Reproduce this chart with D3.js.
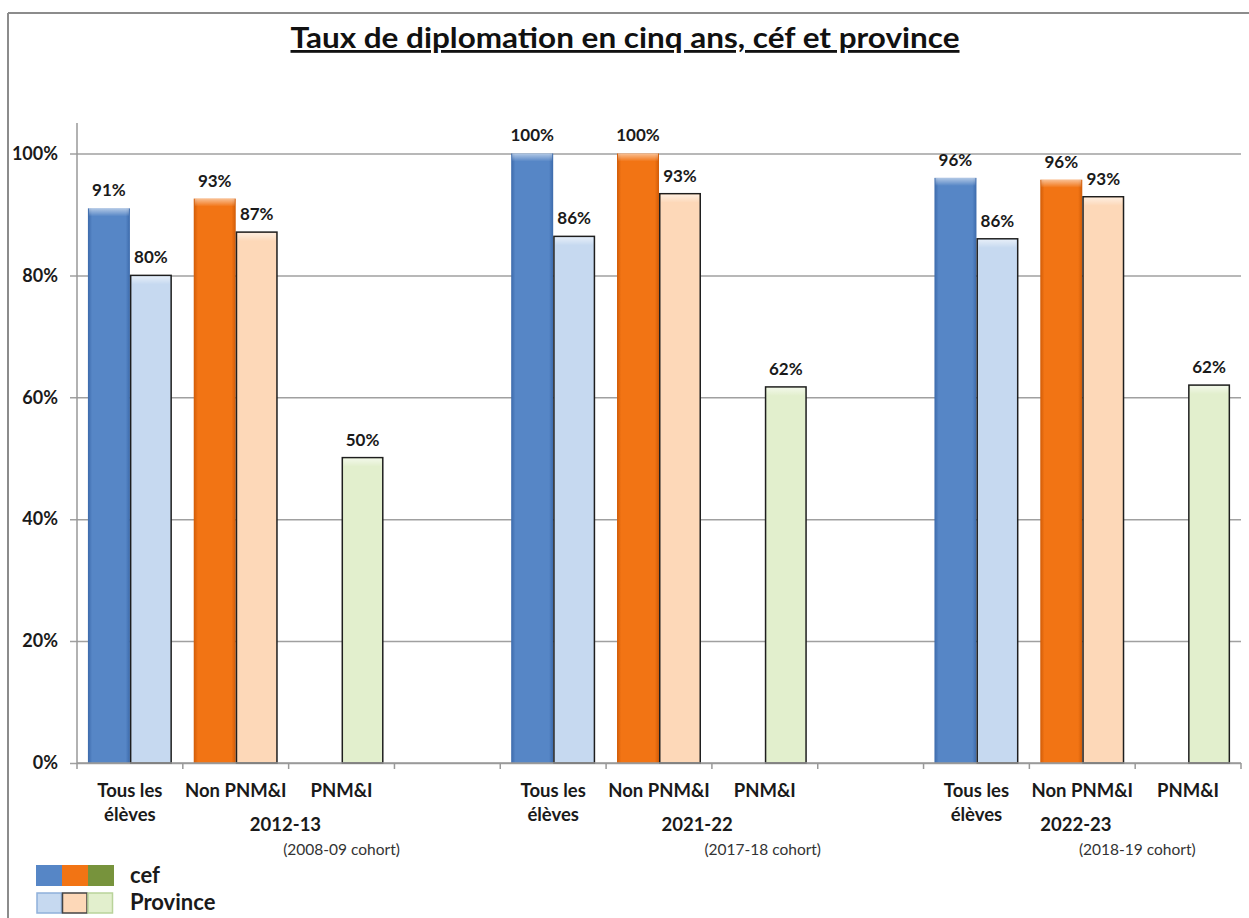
<!DOCTYPE html>
<html>
<head>
<meta charset="utf-8">
<script src="https://cdn.jsdelivr.net/npm/d3@7"></script>
<style>
  body { margin: 0; background: #fff; }
  svg { display: block; font-family: Lato, 'Open Sans', sans-serif; }
</style>
</head>
<body>
<svg id="chart" width="1249" height="918"></svg>
<script>
const groups = ['2012-13', '2021-22', '2022-23']
const cohorts = ['(2008-09 cohort)', '(2017-18 cohort)', '(2018-19 cohort)']
const categories = [['Tous les', 'élèves'], ['Non PNM&I'], ['PNM&I']]
const cefValues = [
  [0.91, 0.926, null],
  [1.00, 1.00, null],
  [0.96, 0.957, null],
]
const provinceValues = [
  [0.80, 0.871, 0.501],
  [0.864, 0.934, 0.617],
  [0.86, 0.929, 0.62],
]
const yTicks = [0, 0.2, 0.4, 0.6, 0.8, 1]
const legendLabels = ['cef', 'Province']

// colours per category: blue, orange, green
const cefPalette = [
  { edge: '#3c6aab', body: '#5686c6' },
  { edge: '#d15c08', body: '#f27414' },
  { edge: '#5f7a2c', body: '#77933c' },
]
const provPalette = ['#c6d9f0', '#fdd8b8', '#e2efcd']
const provLegendStroke = ['#8fb0da', '#444', '#b9d39a']

const svg = d3.select('#chart')
const defs = svg.append('defs')

cefPalette.forEach((c, i) => {
  const g = defs.append('linearGradient').attr('id', `cef-${i}`)
  g.append('stop').attr('offset', '0%').attr('stop-color', c.edge)
  g.append('stop').attr('offset', '10%').attr('stop-color', c.body)
  g.append('stop').attr('offset', '90%').attr('stop-color', c.body)
  g.append('stop').attr('offset', '100%').attr('stop-color', c.edge)
})
const hl = defs.append('linearGradient').attr('id', 'hl').attr('x1', 0).attr('x2', 0).attr('y1', 0).attr('y2', 1)
hl.append('stop').attr('offset', '0%').attr('stop-color', '#fff').attr('stop-opacity', 0.55)
hl.append('stop').attr('offset', '100%').attr('stop-color', '#fff').attr('stop-opacity', 0)

// frame
svg.append('line').attr('x1', 8).attr('x2', 1249).attr('y1', 13).attr('y2', 13)
  .attr('stroke', '#8c8c8c').attr('stroke-width', 2)
svg.append('line').attr('x1', 8).attr('x2', 8).attr('y1', 13).attr('y2', 918)
  .attr('stroke', '#8c8c8c').attr('stroke-width', 2)

// title
svg.append('text')
  .attr('x', 625).attr('y', 48)
  .attr('text-anchor', 'middle')
  .attr('font-size', 28).attr('font-weight', 700)
  .attr('textLength', 669).attr('lengthAdjust', 'spacingAndGlyphs')
  .attr('text-decoration', 'underline')
  .attr('fill', '#111')
  .text('Taux de diplomation en cinq ans, céf et province')

// slots: 3 categories per group, blank slot between groups
const slots = []
groups.forEach((g, gi) => {
  categories.forEach((c, ci) => {
    slots.push({ key: `${gi}-${ci}`, gi, ci, cef: cefValues[gi][ci], prov: provinceValues[gi][ci] })
  })
  if (gi < groups.length - 1) slots.push({ key: `gap-${gi}`, gap: true })
})

const x = d3.scaleBand().domain(slots.map((d) => d.key)).range([77, 1241])
const inner = d3.scaleBand().domain(['cef', 'prov']).range([0, x.bandwidth()]).paddingOuter(0.26)
const y = d3.scaleLinear().domain([0, 1.05]).range([763, 123])
const fmt = d3.format('.0%')

// gridlines + y labels
svg.append('g')
  .attr('transform', 'translate(77,0)')
  .call(d3.axisLeft(y).tickValues(yTicks).tickSize(-1164).tickFormat(fmt).tickPadding(19))
  .call((g) => g.select('.domain').remove())
  .call((g) => g.selectAll('.tick line').attr('stroke', '#a0a0a0').attr('stroke-width', 1.5).attr('x1', -7))
  .call((g) => g.selectAll('.tick text')
    .attr('font-family', 'Lato, sans-serif').attr('font-size', 18).attr('font-weight', 700).attr('fill', '#1a1a1a'))

svg.append('line').attr('x1', 77).attr('x2', 77).attr('y1', 123).attr('y2', 763)
  .attr('stroke', '#999').attr('stroke-width', 1.5)

// bars
const bars = svg.append('g').selectAll('g.slot')
  .data(slots.filter((d) => !d.gap))
  .join('g')
  .attr('class', 'slot')
  .attr('transform', (d) => `translate(${x(d.key)},0)`)

bars.filter((d) => d.cef != null).each(function (d) {
  const g = d3.select(this)
  const bx = inner('cef')
  const w = inner.bandwidth()
  g.append('rect').attr('x', bx).attr('y', y(d.cef)).attr('width', w).attr('height', y(0) - y(d.cef))
    .attr('fill', `url(#cef-${d.ci})`)
  g.append('rect').attr('x', bx + 1).attr('y', y(d.cef)).attr('width', w - 2).attr('height', 8)
    .attr('fill', 'url(#hl)')
  g.append('text').attr('x', bx + w / 2).attr('y', y(d.cef) - 12)
    .attr('text-anchor', 'middle').attr('font-size', 17).attr('font-weight', 700).attr('fill', '#1a1a1a')
    .text(fmt(d.cef))
})

bars.filter((d) => d.prov != null).each(function (d) {
  const g = d3.select(this)
  const bx = inner('prov')
  const w = inner.bandwidth()
  g.append('rect').attr('x', bx + 0.75).attr('y', y(d.prov)).attr('width', w - 1.5).attr('height', y(0) - y(d.prov))
    .attr('fill', provPalette[d.ci]).attr('stroke', '#1e1e1e').attr('stroke-width', 1.5)
  g.append('rect').attr('x', bx + 2).attr('y', y(d.prov) + 1).attr('width', w - 4).attr('height', 8)
    .attr('fill', 'url(#hl)')
  g.append('text').attr('x', bx + w / 2).attr('y', y(d.prov) - 12)
    .attr('text-anchor', 'middle').attr('font-size', 17).attr('font-weight', 700).attr('fill', '#1a1a1a')
    .text(fmt(d.prov))
})

// x axis
svg.append('line').attr('x1', 77).attr('x2', 1241).attr('y1', 763).attr('y2', 763)
  .attr('stroke', '#999').attr('stroke-width', 1.5)
const tickXs = slots.map((d) => x(d.key)).concat([x.range()[1]])
svg.append('g').selectAll('line').data(tickXs).join('line')
  .attr('x1', (d) => d).attr('x2', (d) => d).attr('y1', 763).attr('y2', 769)
  .attr('stroke', '#999').attr('stroke-width', 1.5)

// category labels
svg.append('g').selectAll('text')
  .data(slots.filter((d) => !d.gap))
  .join('text')
  .attr('x', (d) => x(d.key) + x.bandwidth() / 2)
  .attr('y', 797)
  .attr('text-anchor', 'middle').attr('font-size', 18.5).attr('font-weight', 700).attr('fill', '#1a1a1a')
  .each(function (d) {
    d3.select(this).selectAll('tspan').data(categories[d.ci]).join('tspan')
      .attr('x', x(d.key) + x.bandwidth() / 2)
      .attr('dy', (t, i) => (i ? 24 : 0))
      .text((t) => t)
  })

// group and cohort labels (positions in slot units)
const groupAt = [1.97, 5.86, 9.44]
const cohortAt = [2.5, 6.48, 10.02]
svg.append('g').selectAll('text').data(groups).join('text')
  .attr('x', (d, i) => 77 + groupAt[i] * x.step())
  .attr('y', 831)
  .attr('text-anchor', 'middle').attr('font-size', 18.5).attr('font-weight', 700).attr('fill', '#1a1a1a')
  .text((d) => d)
svg.append('g').selectAll('text').data(cohorts).join('text')
  .attr('x', (d, i) => 77 + cohortAt[i] * x.step())
  .attr('y', 855)
  .attr('text-anchor', 'middle').attr('font-size', 15.5).attr('fill', '#333')
  .text((d) => d)

// legend
const legend = svg.append('g')
cefPalette.forEach((c, i) => {
  legend.append('rect').attr('x', 36 + i * 26).attr('y', 865).attr('width', 26).attr('height', 21)
    .attr('fill', c.body)
})
provPalette.forEach((c, i) => {
  legend.append('rect').attr('x', 37 + i * 25.5).attr('y', 893).attr('width', 24.5).attr('height', 20)
    .attr('fill', c).attr('stroke', provLegendStroke[i]).attr('stroke-width', 1.5)
})
legend.selectAll('text').data(legendLabels).join('text')
  .attr('x', 130).attr('y', (d, i) => 883 + i * 27)
  .attr('font-size', 22).attr('font-weight', 700).attr('fill', '#1a1a1a')
  .text((d) => d)
</script>
</body>
</html>
